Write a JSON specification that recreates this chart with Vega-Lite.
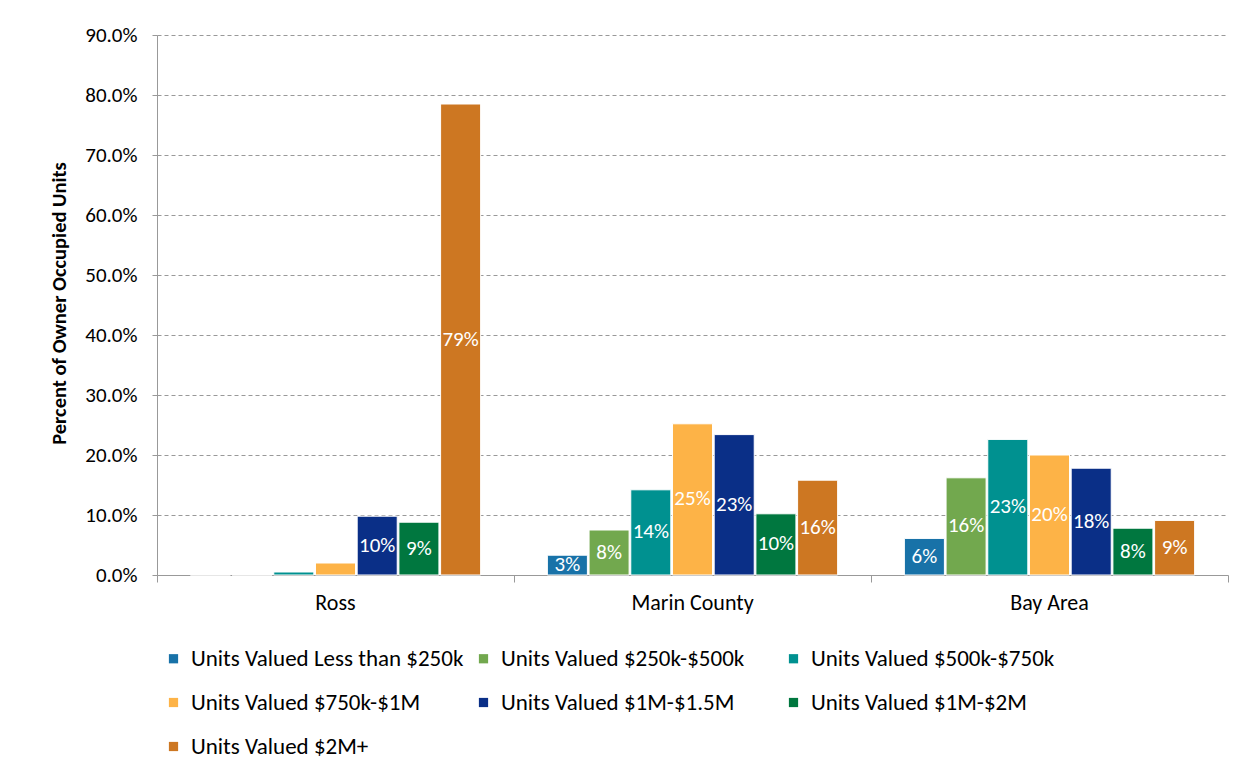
{
  "$schema": "https://vega.github.io/schema/vega-lite/v6.json",
  "width": 1071,
  "height": 540,
  "autosize": {"type": "none"},
  "padding": {"left": 157, "top": 35, "right": 22, "bottom": 205},
  "background": "white",
  "config": {"font": "Carlito, Lato, Liberation Sans, sans-serif", "view": {"stroke": null}},
  "data": {
    "values": [
      {"region": "Ross", "cat": "Units Valued Less than $250k", "v": 0},
      {"region": "Ross", "cat": "Units Valued $250k-$500k", "v": 0},
      {"region": "Ross", "cat": "Units Valued $500k-$750k", "v": 0.005},
      {"region": "Ross", "cat": "Units Valued $750k-$1M", "v": 0.02},
      {"region": "Ross", "cat": "Units Valued $1M-$1.5M", "v": 0.098},
      {"region": "Ross", "cat": "Units Valued $1M-$2M", "v": 0.088},
      {"region": "Ross", "cat": "Units Valued $2M+", "v": 0.785},
      {"region": "Marin County", "cat": "Units Valued Less than $250k", "v": 0.033},
      {"region": "Marin County", "cat": "Units Valued $250k-$500k", "v": 0.075},
      {"region": "Marin County", "cat": "Units Valued $500k-$750k", "v": 0.142},
      {"region": "Marin County", "cat": "Units Valued $750k-$1M", "v": 0.252},
      {"region": "Marin County", "cat": "Units Valued $1M-$1.5M", "v": 0.234},
      {"region": "Marin County", "cat": "Units Valued $1M-$2M", "v": 0.102},
      {"region": "Marin County", "cat": "Units Valued $2M+", "v": 0.158},
      {"region": "Bay Area", "cat": "Units Valued Less than $250k", "v": 0.061},
      {"region": "Bay Area", "cat": "Units Valued $250k-$500k", "v": 0.162},
      {"region": "Bay Area", "cat": "Units Valued $500k-$750k", "v": 0.226},
      {"region": "Bay Area", "cat": "Units Valued $750k-$1M", "v": 0.2},
      {"region": "Bay Area", "cat": "Units Valued $1M-$1.5M", "v": 0.178},
      {"region": "Bay Area", "cat": "Units Valued $1M-$2M", "v": 0.078},
      {"region": "Bay Area", "cat": "Units Valued $2M+", "v": 0.091}
    ]
  },
  "layer": [
    {
      "mark": {"type": "bar", "stroke": "white", "strokeWidth": 1},
      "encoding": {
        "x": {
          "field": "region", "type": "nominal",
          "sort": ["Ross", "Marin County", "Bay Area"],
          "scale": {"paddingInner": 0, "paddingOuter": 0},
          "axis": {
            "title": null, "labelAngle": 0, "bandPosition": 1, "tickExtra": true,
            "labelFontSize": 22, "labelColor": "black",
            "labelPadding": 10, "tickSize": 7, "tickColor": "#999999",
            "domainColor": "#999999"
          }
        },
        "xOffset": {
          "field": "cat", "type": "nominal",
          "sort": ["Units Valued Less than $250k", "Units Valued $250k-$500k", "Units Valued $500k-$750k", "Units Valued $750k-$1M", "Units Valued $1M-$1.5M", "Units Valued $1M-$2M", "Units Valued $2M+"],
          "scale": {"paddingInner": 0.04, "paddingOuter": 0.8}
        },
        "y": {
          "field": "v", "type": "quantitative",
          "scale": {"domain": [0, 0.9], "nice": false},
          "axis": {
            "title": "Percent of Owner Occupied Units",
            "values": [0, 0.1, 0.2, 0.3, 0.4, 0.5, 0.6, 0.7, 0.8, 0.9],
            "format": ".1%", "labelFontSize": 21, "labelColor": "black",
            "labelPadding": 15, "tickSize": 5, "tickColor": "#999999",
            "domainColor": "#999999", "gridColor": "#999999", "gridDash": [4, 3],
            "titleFontSize": 20.5, "titleFontWeight": "bold", "titleColor": "black",
            "titleX": -92, "titleY": 268, "titleBaseline": "alphabetic", "titleAngle": -90, "titleAlign": "center"
          }
        },
        "color": {
          "field": "cat", "type": "nominal",
          "sort": ["Units Valued Less than $250k", "Units Valued $250k-$500k", "Units Valued $500k-$750k", "Units Valued $750k-$1M", "Units Valued $1M-$1.5M", "Units Valued $1M-$2M", "Units Valued $2M+"],
          "scale": {
            "domain": ["Units Valued Less than $250k", "Units Valued $250k-$500k", "Units Valued $500k-$750k", "Units Valued $750k-$1M", "Units Valued $1M-$1.5M", "Units Valued $1M-$2M", "Units Valued $2M+"],
            "range": ["#1872A8", "#72A84E", "#009190", "#FDB347", "#0A2F87", "#00773F", "#CD7722"]
          },
          "legend": {
            "orient": "none", "legendX": 5, "legendY": 612, "title": null,
            "direction": "horizontal", "columns": 3, "gridAlign": "all",
            "symbolType": "square", "symbolSize": 85, "symbolStrokeWidth": 0,
            "labelFontSize": 23, "labelColor": "black", "labelOffset": 6,
            "columnPadding": 8, "rowPadding": 20, "labelLimit": 400, "padding": 0
          }
        }
      }
    },
    {
      "transform": [{"filter": "datum.v >= 0.03"}, {"calculate": "datum.v / 2", "as": "mid"}],
      "mark": {"type": "text", "color": "white", "fontSize": 21, "baseline": "middle", "align": "center"},
      "encoding": {
        "x": {"field": "region", "type": "nominal", "sort": ["Ross", "Marin County", "Bay Area"]},
        "xOffset": {
          "field": "cat", "type": "nominal",
          "sort": ["Units Valued Less than $250k", "Units Valued $250k-$500k", "Units Valued $500k-$750k", "Units Valued $750k-$1M", "Units Valued $1M-$1.5M", "Units Valued $1M-$2M", "Units Valued $2M+"]
        },
        "y": {"field": "mid", "type": "quantitative"},
        "text": {"field": "v", "type": "quantitative", "format": ".0%"}
      }
    }
  ]
}
